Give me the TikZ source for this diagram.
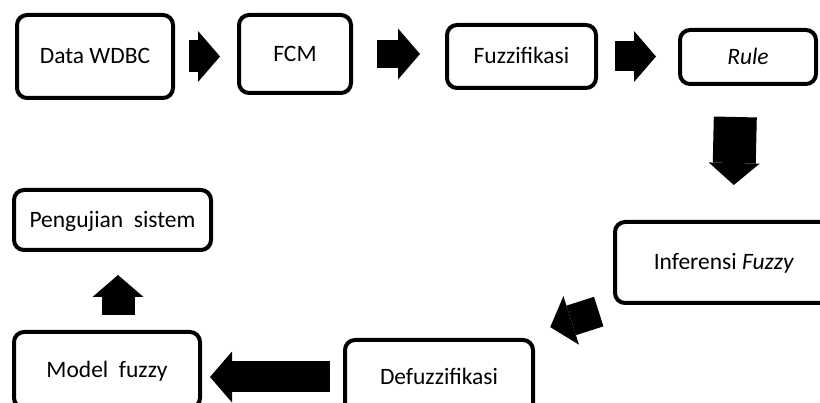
\documentclass[tikz,border=0pt]{standalone}
\usepackage{fontspec}
\setmainfont{Carlito}
\usetikzlibrary{arrows.meta}

\tikzset{
    stage/.style={draw, line width=4pt, rounded corners=10pt, inner sep=0pt, text height=18pt, text depth=3pt, font=\fontsize{23.5}{28}\selectfont},
    blk/.style={line width=31pt, -{Triangle[length=22pt,width=51pt,line width=0pt]}}
}

\begin{document}
\begin{tikzpicture}[x=1pt, y=-1pt]
                \useasboundingbox (0,0) rectangle (820,403);
                \clip (0,0) rectangle (820,403);

                \node[stage, minimum width=156pt, minimum height=83pt] (data) at (95,56.5) {Data WDBC};
                \node[stage, minimum width=112pt, minimum height=78pt] (fcm) at (295,54) {FCM};
                \node[stage, minimum width=149pt, minimum height=63pt] (fuzz) at (521.5,56.5) {Fuzzifikasi};
                \node[stage, minimum width=136pt, minimum height=54pt] (rule) at (748,57) {\textit{Rule}};
                \node[stage, minimum width=218pt, minimum height=81pt] (infer) at (724,262.5) {Inferensi \textit{Fuzzy}};
                \node[stage, minimum width=188pt, minimum height=74pt] (defuzz) at (439,377) {Defuzzifikasi};
                \node[stage, minimum width=186pt, minimum height=76pt] (model) at (107,370) {Model~~fuzzy};
                \node[stage, minimum width=197pt, minimum height=60pt] (uji) at (112.5,220) {Pengujian~~sistem};

                \draw[blk, line width=32pt, shorten <=14pt, shorten >=17pt] (data.east) -- (data.east -| fcm.west);
                \draw[blk, line width=28pt, shorten <=24pt, shorten >=25pt] (fcm.east) -- (fcm.east -| fuzz.west);
                \draw[blk, line width=30pt, shorten <=17pt, shorten >=22pt] (fuzz.east) -- (fuzz.east -| rule.west);
                \draw[blk, line width=43pt, shorten <=31pt, shorten >=35pt] ([xshift=-12pt]rule.south) -- ([xshift=9pt]infer.north);
                \draw[blk, shorten <=15pt, shorten >=16pt] ([yshift=-2pt]infer.south west) -- ([yshift=6pt]defuzz.north east);
                \draw[blk, shorten <=13pt, shorten >=8pt] (defuzz.west) -- (defuzz.west -| model.east);
                \draw[blk, line width=33pt, shorten <=15pt, shorten >=23pt] ([xshift=11pt]model.north) -- ([xshift=11pt]model.north |- uji.south);
\end{tikzpicture}
\end{document}
